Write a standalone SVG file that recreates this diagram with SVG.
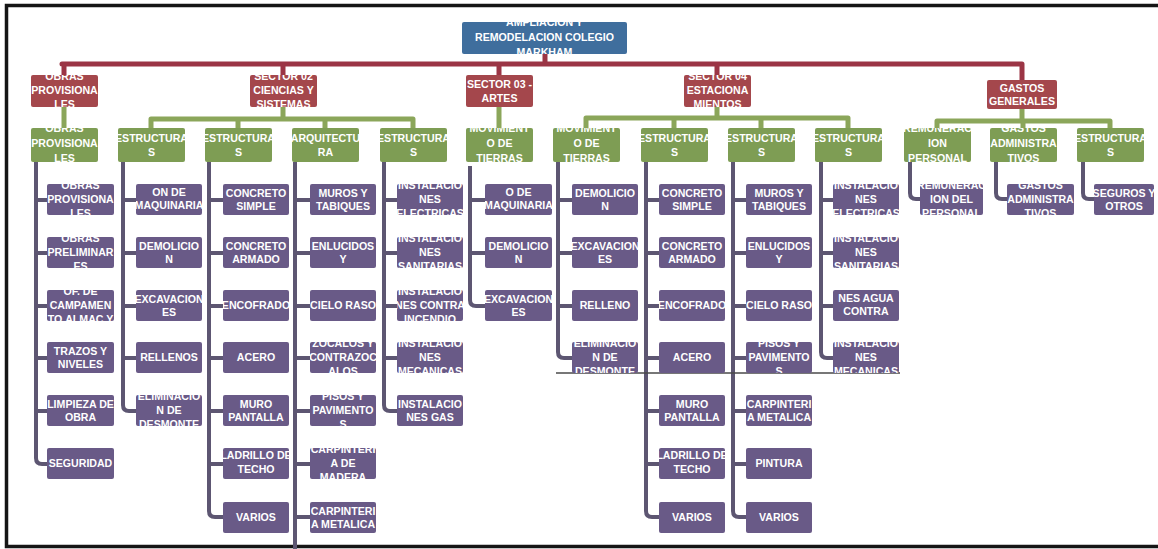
<svg xmlns="http://www.w3.org/2000/svg" width="1158" height="549" viewBox="0 0 1158 549">
<style>
  .bg{fill:#fff}
  .frame{fill:none;stroke:#151515;stroke-width:3.5}
  .root{fill:#3F6E9D}
  .sec{fill:#A4474C}
  .grp{fill:#7E9D54}
  .itm{fill:#695A87}
  .t{fill:#fff;font-family:"Liberation Sans",Arial,sans-serif;font-size:10.6px;font-weight:bold;text-anchor:middle}
  .lr{fill:none;stroke:#9B3545;stroke-width:5;stroke-linecap:round}
  .lg{fill:none;stroke:#8BA65A;stroke-width:5;stroke-linecap:round}
  .lp{fill:none;stroke:#5D5672;stroke-width:4}
  .lk{fill:none;stroke:#4A4A4A;stroke-width:1.5}
</style>
<rect class="bg" width="1158" height="549"/>
<path class="frame" d="M1158 5.5H6.5V546.5H1158"/>

<g id="connectors">
  <!-- level 1 -> level 2 -->
  <path class="lr" d="M545 54V64M62 64H1022M64 64V75M283 64V75M499 64V75M717 64V75M1022 64V80"/>
  <!-- level 2 -> level 3 -->
  <path class="lg" d="M64 107V128M499 107V128"/>
  <path class="lg" d="M283 107V119M151 119H413M151 119V128M238 119V128M325 119V128M413 119V128"/>
  <path class="lg" d="M717 107V118M586 118H848M586 118V128M674 118V128M761 118V128M848 118V128"/>
  <path class="lg" d="M1022 109V121M937 121H1110M937 121V128M1023 121V128M1110 121V128"/>
  <!-- level 3 -> items -->
  <path class="lp" d="M36 162V458Q36 464 42 464H47M36 200H47M36 253H47M36 306H47M36 358H47M36 411H47"/>
  <path class="lp" d="M123 162V405Q123 411 129 411H136M123 200H136M123 253H136M123 306H136M123 358H136"/>
  <path class="lp" d="M209 162V511Q209 517 215 517H223M209 200H223M209 253H223M209 306H223M209 358H223M209 411H223M209 464H223"/>
  <path class="lp" d="M295 162V549M295 200H310M295 253H310M295 306H310M295 358H310M295 411H310M295 464H310M295 517H310"/>
  <path class="lp" d="M384 162V405Q384 411 390 411H397M384 200H397M384 253H397M384 306H397M384 358H397"/>
  <path class="lp" d="M470 166V300Q470 306 476 306H485M470 200H485M470 253H485"/>
  <path class="lp" d="M558 162V352Q558 358 564 358H572M558 200H572M558 253H572M558 306H572"/>
  <path class="lp" d="M646 162V511Q646 517 652 517H659M646 200H659M646 253H659M646 306H659M646 358H659M646 411H659M646 464H659"/>
  <path class="lp" d="M733 162V511Q733 517 739 517H746M733 200H746M733 253H746M733 306H746M733 358H746M733 411H746M733 464H746"/>
  <path class="lp" d="M821 162V352Q821 358 827 358H833M821 200H833M821 253H833M821 306H833"/>
  <path class="lp" d="M910 162V193Q910 199 916 199H920M996 162V193Q996 199 1002 199H1007M1083 162V193Q1083 199 1089 199H1094"/>
  <path class="lk" d="M556 373H900"/>
</g>

<!-- level 1 -->
<g id="n-root"><svg x="462" y="22" width="165" height="32"><rect class="root" width="165" height="32" rx="2"/><text class="t"><tspan x="82.5" y="4">AMPLIACION Y</tspan><tspan x="82.5" y="19">REMODELACION COLEGIO</tspan><tspan x="82.5" y="34">MARKHAM</tspan></text></svg></g>

<!-- level 2 -->
<g id="n-s1"><svg x="31" y="75" width="67" height="32"><rect class="sec" width="67" height="32" rx="2"/><text class="t"><tspan x="33.5" y="5">OBRAS</tspan><tspan x="33.5" y="19">PROVISIONA</tspan><tspan x="33.5" y="33">LES</tspan></text></svg></g>
<g id="n-s2"><svg x="250" y="75" width="67" height="32"><rect class="sec" width="67" height="32" rx="2"/><text class="t"><tspan x="33.5" y="5">SECTOR 02</tspan><tspan x="33.5" y="19">CIENCIAS Y</tspan><tspan x="33.5" y="33">SISTEMAS</tspan></text></svg></g>
<g id="n-s3"><svg x="466" y="75" width="67" height="32"><rect class="sec" width="67" height="32" rx="2"/><text class="t"><tspan x="33.5" y="13">SECTOR 03 -</tspan><tspan x="33.5" y="27">ARTES</tspan></text></svg></g>
<g id="n-s4"><svg x="684" y="75" width="67" height="32"><rect class="sec" width="67" height="32" rx="2"/><text class="t"><tspan x="33.5" y="5">SECTOR 04</tspan><tspan x="33.5" y="19">ESTACIONA</tspan><tspan x="33.5" y="33">MIENTOS</tspan></text></svg></g>
<g id="n-s5"><svg x="987" y="80" width="70" height="29"><rect class="sec" width="70" height="29" rx="2"/><text class="t"><tspan x="35" y="12">GASTOS</tspan><tspan x="35" y="25">GENERALES</tspan></text></svg></g>

<!-- level 3 -->
<g id="n-g1"><svg x="31" y="128" width="67" height="34"><rect class="grp" width="67" height="34" rx="2"/><text class="t"><tspan x="33.5" y="4">OBRAS</tspan><tspan x="33.5" y="19">PROVISIONA</tspan><tspan x="33.5" y="34">LES</tspan></text></svg></g>
<g id="n-g2"><svg x="118" y="128" width="67" height="34"><rect class="grp" width="67" height="34" rx="2"/><text class="t"><tspan x="33.5" y="14">ESTRUCTURA</tspan><tspan x="33.5" y="28">S</tspan></text></svg></g>
<g id="n-g3"><svg x="205" y="128" width="67" height="34"><rect class="grp" width="67" height="34" rx="2"/><text class="t"><tspan x="33.5" y="14">ESTRUCTURA</tspan><tspan x="33.5" y="28">S</tspan></text></svg></g>
<g id="n-g4"><svg x="292" y="128" width="67" height="34"><rect class="grp" width="67" height="34" rx="2"/><text class="t"><tspan x="33.5" y="14">ARQUITECTU</tspan><tspan x="33.5" y="28">RA</tspan></text></svg></g>
<g id="n-g5"><svg x="380" y="128" width="67" height="34"><rect class="grp" width="67" height="34" rx="2"/><text class="t"><tspan x="33.5" y="14">ESTRUCTURA</tspan><tspan x="33.5" y="28">S</tspan></text></svg></g>
<g id="n-g6"><svg x="466" y="128" width="67" height="34"><rect class="grp" width="67" height="34" rx="2"/><text class="t"><tspan x="33.5" y="4">MOVIMIENT</tspan><tspan x="33.5" y="19">O DE</tspan><tspan x="33.5" y="34">TIERRAS</tspan></text></svg></g>
<g id="n-g7"><svg x="553" y="128" width="67" height="34"><rect class="grp" width="67" height="34" rx="2"/><text class="t"><tspan x="33.5" y="4">MOVIMIENT</tspan><tspan x="33.5" y="19">O DE</tspan><tspan x="33.5" y="34">TIERRAS</tspan></text></svg></g>
<g id="n-g8"><svg x="641" y="128" width="67" height="34"><rect class="grp" width="67" height="34" rx="2"/><text class="t"><tspan x="33.5" y="14">ESTRUCTURA</tspan><tspan x="33.5" y="28">S</tspan></text></svg></g>
<g id="n-g9"><svg x="728" y="128" width="67" height="34"><rect class="grp" width="67" height="34" rx="2"/><text class="t"><tspan x="33.5" y="14">ESTRUCTURA</tspan><tspan x="33.5" y="28">S</tspan></text></svg></g>
<g id="n-g10"><svg x="815" y="128" width="67" height="34"><rect class="grp" width="67" height="34" rx="2"/><text class="t"><tspan x="33.5" y="14">ESTRUCTURA</tspan><tspan x="33.5" y="28">S</tspan></text></svg></g>
<g id="n-g11"><svg x="904" y="128" width="67" height="34"><rect class="grp" width="67" height="34" rx="2"/><text class="t"><tspan x="33.5" y="4">REMUNERAC</tspan><tspan x="33.5" y="19">ION</tspan><tspan x="33.5" y="34">PERSONAL</tspan></text></svg></g>
<g id="n-g12"><svg x="990" y="128" width="67" height="34"><rect class="grp" width="67" height="34" rx="2"/><text class="t"><tspan x="33.5" y="4">GASTOS</tspan><tspan x="33.5" y="19">ADMINISTRA</tspan><tspan x="33.5" y="34">TIVOS</tspan></text></svg></g>
<g id="n-g13"><svg x="1077" y="128" width="67" height="34"><rect class="grp" width="67" height="34" rx="2"/><text class="t"><tspan x="33.5" y="14">ESTRUCTURA</tspan><tspan x="33.5" y="28">S</tspan></text></svg></g>

<!-- items: obras provisionales -->
<g id="n-a1"><svg x="47" y="184" width="67" height="31"><rect class="itm" width="67" height="31" rx="2"/><text class="t"><tspan x="33.5" y="5">OBRAS</tspan><tspan x="33.5" y="19">PROVISIONA</tspan><tspan x="33.5" y="33">LES</tspan></text></svg></g>
<g id="n-a2"><svg x="47" y="237" width="67" height="31"><rect class="itm" width="67" height="31" rx="2"/><text class="t"><tspan x="33.5" y="5">OBRAS</tspan><tspan x="33.5" y="19">PRELIMINAR</tspan><tspan x="33.5" y="33">ES</tspan></text></svg></g>
<g id="n-a3"><svg x="47" y="290" width="67" height="31"><rect class="itm" width="67" height="31" rx="2"/><text class="t"><tspan x="33.5" y="5">OF. DE</tspan><tspan x="33.5" y="19">CAMPAMEN</tspan><tspan x="33.5" y="33">TO,ALMAC Y</tspan></text></svg></g>
<g id="n-a4"><svg x="47" y="342" width="67" height="31"><rect class="itm" width="67" height="31" rx="2"/><text class="t"><tspan x="33.5" y="13">TRAZOS Y</tspan><tspan x="33.5" y="26">NIVELES</tspan></text></svg></g>
<g id="n-a5"><svg x="47" y="395" width="67" height="31"><rect class="itm" width="67" height="31" rx="2"/><text class="t"><tspan x="33.5" y="13">LIMPIEZA DE</tspan><tspan x="33.5" y="26">OBRA</tspan></text></svg></g>
<g id="n-a6"><svg x="47" y="448" width="67" height="31"><rect class="itm" width="67" height="31" rx="2"/><text class="t"><tspan x="33.5" y="19">SEGURIDAD</tspan></text></svg></g>

<!-- items: sector 02 -->
<g id="n-b1"><svg x="136" y="184" width="66" height="31"><rect class="itm" width="66" height="31" rx="2"/><text class="t"><tspan x="33" y="-1">MOVILIZACI</tspan><tspan x="33" y="12">ON DE</tspan><tspan x="33" y="25">MAQUINARIA</tspan></text></svg></g>
<g id="n-b2"><svg x="136" y="237" width="66" height="31"><rect class="itm" width="66" height="31" rx="2"/><text class="t"><tspan x="33" y="13">DEMOLICIO</tspan><tspan x="33" y="26">N</tspan></text></svg></g>
<g id="n-b3"><svg x="136" y="290" width="66" height="31"><rect class="itm" width="66" height="31" rx="2"/><text class="t"><tspan x="33" y="13">EXCAVACION</tspan><tspan x="33" y="26">ES</tspan></text></svg></g>
<g id="n-b4"><svg x="136" y="342" width="66" height="31"><rect class="itm" width="66" height="31" rx="2"/><text class="t"><tspan x="33" y="19">RELLENOS</tspan></text></svg></g>
<g id="n-b5"><svg x="136" y="395" width="66" height="31"><rect class="itm" width="66" height="31" rx="2"/><text class="t"><tspan x="33" y="5">ELIMINACIO</tspan><tspan x="33" y="19">N DE</tspan><tspan x="33" y="33">DESMONTE</tspan></text></svg></g>

<g id="n-c1"><svg x="223" y="184" width="66" height="31"><rect class="itm" width="66" height="31" rx="2"/><text class="t"><tspan x="33" y="13">CONCRETO</tspan><tspan x="33" y="26">SIMPLE</tspan></text></svg></g>
<g id="n-c2"><svg x="223" y="237" width="66" height="31"><rect class="itm" width="66" height="31" rx="2"/><text class="t"><tspan x="33" y="13">CONCRETO</tspan><tspan x="33" y="26">ARMADO</tspan></text></svg></g>
<g id="n-c3"><svg x="223" y="290" width="66" height="31"><rect class="itm" width="66" height="31" rx="2"/><text class="t"><tspan x="33" y="19">ENCOFRADO</tspan></text></svg></g>
<g id="n-c4"><svg x="223" y="342" width="66" height="31"><rect class="itm" width="66" height="31" rx="2"/><text class="t"><tspan x="33" y="19">ACERO</tspan></text></svg></g>
<g id="n-c5"><svg x="223" y="395" width="66" height="31"><rect class="itm" width="66" height="31" rx="2"/><text class="t"><tspan x="33" y="13">MURO</tspan><tspan x="33" y="26">PANTALLA</tspan></text></svg></g>
<g id="n-c6"><svg x="223" y="448" width="66" height="31"><rect class="itm" width="66" height="31" rx="2"/><text class="t"><tspan x="33" y="11">LADRILLO DE</tspan><tspan x="33" y="25">TECHO</tspan></text></svg></g>
<g id="n-c7"><svg x="223" y="502" width="66" height="31"><rect class="itm" width="66" height="31" rx="2"/><text class="t"><tspan x="33" y="19">VARIOS</tspan></text></svg></g>

<g id="n-d1"><svg x="310" y="184" width="66" height="31"><rect class="itm" width="66" height="31" rx="2"/><text class="t"><tspan x="33" y="13">MUROS Y</tspan><tspan x="33" y="26">TABIQUES</tspan></text></svg></g>
<g id="n-d2"><svg x="310" y="237" width="66" height="31"><rect class="itm" width="66" height="31" rx="2"/><text class="t"><tspan x="33" y="13">ENLUCIDOS</tspan><tspan x="33" y="26">Y</tspan></text></svg></g>
<g id="n-d3"><svg x="310" y="290" width="66" height="31"><rect class="itm" width="66" height="31" rx="2"/><text class="t"><tspan x="33" y="19">CIELO RASO</tspan></text></svg></g>
<g id="n-d4"><svg x="310" y="342" width="66" height="31"><rect class="itm" width="66" height="31" rx="2"/><text class="t"><tspan x="33" y="5">ZOCALOS Y</tspan><tspan x="33" y="19">CONTRAZOC</tspan><tspan x="33" y="33">ALOS</tspan></text></svg></g>
<g id="n-d5"><svg x="310" y="395" width="66" height="31"><rect class="itm" width="66" height="31" rx="2"/><text class="t"><tspan x="33" y="5">PISOS Y</tspan><tspan x="33" y="19">PAVIMENTO</tspan><tspan x="33" y="33">S</tspan></text></svg></g>
<g id="n-d6"><svg x="310" y="448" width="66" height="31"><rect class="itm" width="66" height="31" rx="2"/><text class="t"><tspan x="33" y="5">CARPINTERI</tspan><tspan x="33" y="19">A DE</tspan><tspan x="33" y="33">MADERA</tspan></text></svg></g>
<g id="n-d7"><svg x="310" y="502" width="66" height="31"><rect class="itm" width="66" height="31" rx="2"/><text class="t"><tspan x="33" y="13">CARPINTERI</tspan><tspan x="33" y="26">A METALICA</tspan></text></svg></g>

<g id="n-e1"><svg x="397" y="184" width="66" height="31"><rect class="itm" width="66" height="31" rx="2"/><text class="t"><tspan x="33" y="5">INSTALACIO</tspan><tspan x="33" y="19">NES</tspan><tspan x="33" y="33">ELECTRICAS</tspan></text></svg></g>
<g id="n-e2"><svg x="397" y="237" width="66" height="31"><rect class="itm" width="66" height="31" rx="2"/><text class="t"><tspan x="33" y="5">INSTALACIO</tspan><tspan x="33" y="19">NES</tspan><tspan x="33" y="33">SANITARIAS</tspan></text></svg></g>
<g id="n-e3"><svg x="397" y="290" width="66" height="31"><rect class="itm" width="66" height="31" rx="2"/><text class="t"><tspan x="33" y="5">INSTALACIO</tspan><tspan x="33" y="19">NES CONTRA</tspan><tspan x="33" y="33">INCENDIO</tspan></text></svg></g>
<g id="n-e4"><svg x="397" y="342" width="66" height="31"><rect class="itm" width="66" height="31" rx="2"/><text class="t"><tspan x="33" y="5">INSTALACIO</tspan><tspan x="33" y="19">NES</tspan><tspan x="33" y="33">MECANICAS</tspan></text></svg></g>
<g id="n-e5"><svg x="397" y="395" width="66" height="31"><rect class="itm" width="66" height="31" rx="2"/><text class="t"><tspan x="33" y="13">INSTALACIO</tspan><tspan x="33" y="26">NES GAS</tspan></text></svg></g>

<!-- items: sector 03 -->
<g id="n-f1"><svg x="485" y="184" width="67" height="31"><rect class="itm" width="67" height="31" rx="2"/><text class="t"><tspan x="33.5" y="-1">MOVILIZACI</tspan><tspan x="33.5" y="12">O DE</tspan><tspan x="33.5" y="25">MAQUINARIA</tspan></text></svg></g>
<g id="n-f2"><svg x="485" y="237" width="67" height="31"><rect class="itm" width="67" height="31" rx="2"/><text class="t"><tspan x="33.5" y="13">DEMOLICIO</tspan><tspan x="33.5" y="26">N</tspan></text></svg></g>
<g id="n-f3"><svg x="485" y="290" width="67" height="31"><rect class="itm" width="67" height="31" rx="2"/><text class="t"><tspan x="33.5" y="13">EXCAVACION</tspan><tspan x="33.5" y="26">ES</tspan></text></svg></g>

<!-- items: sector 04 -->
<g id="n-g7a"><svg x="572" y="184" width="66" height="31"><rect class="itm" width="66" height="31" rx="2"/><text class="t"><tspan x="33" y="13">DEMOLICIO</tspan><tspan x="33" y="26">N</tspan></text></svg></g>
<g id="n-g7b"><svg x="572" y="237" width="66" height="31"><rect class="itm" width="66" height="31" rx="2"/><text class="t"><tspan x="33" y="13">EXCAVACION</tspan><tspan x="33" y="26">ES</tspan></text></svg></g>
<g id="n-g7c"><svg x="572" y="290" width="66" height="31"><rect class="itm" width="66" height="31" rx="2"/><text class="t"><tspan x="33" y="19">RELLENO</tspan></text></svg></g>
<g id="n-g7d"><svg x="572" y="342" width="66" height="31"><rect class="itm" width="66" height="31" rx="2"/><text class="t"><tspan x="33" y="5">ELIMINACIO</tspan><tspan x="33" y="19">N DE</tspan><tspan x="33" y="33">DESMONTE</tspan></text></svg></g>

<g id="n-h1"><svg x="659" y="184" width="66" height="31"><rect class="itm" width="66" height="31" rx="2"/><text class="t"><tspan x="33" y="13">CONCRETO</tspan><tspan x="33" y="26">SIMPLE</tspan></text></svg></g>
<g id="n-h2"><svg x="659" y="237" width="66" height="31"><rect class="itm" width="66" height="31" rx="2"/><text class="t"><tspan x="33" y="13">CONCRETO</tspan><tspan x="33" y="26">ARMADO</tspan></text></svg></g>
<g id="n-h3"><svg x="659" y="290" width="66" height="31"><rect class="itm" width="66" height="31" rx="2"/><text class="t"><tspan x="33" y="19">ENCOFRADO</tspan></text></svg></g>
<g id="n-h4"><svg x="659" y="342" width="66" height="31"><rect class="itm" width="66" height="31" rx="2"/><text class="t"><tspan x="33" y="19">ACERO</tspan></text></svg></g>
<g id="n-h5"><svg x="659" y="395" width="66" height="31"><rect class="itm" width="66" height="31" rx="2"/><text class="t"><tspan x="33" y="13">MURO</tspan><tspan x="33" y="26">PANTALLA</tspan></text></svg></g>
<g id="n-h6"><svg x="659" y="448" width="66" height="31"><rect class="itm" width="66" height="31" rx="2"/><text class="t"><tspan x="33" y="11">LADRILLO DE</tspan><tspan x="33" y="25">TECHO</tspan></text></svg></g>
<g id="n-h7"><svg x="659" y="502" width="66" height="31"><rect class="itm" width="66" height="31" rx="2"/><text class="t"><tspan x="33" y="19">VARIOS</tspan></text></svg></g>

<g id="n-i1"><svg x="746" y="184" width="66" height="31"><rect class="itm" width="66" height="31" rx="2"/><text class="t"><tspan x="33" y="13">MUROS Y</tspan><tspan x="33" y="26">TABIQUES</tspan></text></svg></g>
<g id="n-i2"><svg x="746" y="237" width="66" height="31"><rect class="itm" width="66" height="31" rx="2"/><text class="t"><tspan x="33" y="13">ENLUCIDOS</tspan><tspan x="33" y="26">Y</tspan></text></svg></g>
<g id="n-i3"><svg x="746" y="290" width="66" height="31"><rect class="itm" width="66" height="31" rx="2"/><text class="t"><tspan x="33" y="19">CIELO RASO</tspan></text></svg></g>
<g id="n-i4"><svg x="746" y="342" width="66" height="31"><rect class="itm" width="66" height="31" rx="2"/><text class="t"><tspan x="33" y="5">PISOS Y</tspan><tspan x="33" y="19">PAVIMENTO</tspan><tspan x="33" y="33">S</tspan></text></svg></g>
<g id="n-i5"><svg x="746" y="395" width="66" height="31"><rect class="itm" width="66" height="31" rx="2"/><text class="t"><tspan x="33" y="13">CARPINTERI</tspan><tspan x="33" y="26">A METALICA</tspan></text></svg></g>
<g id="n-i6"><svg x="746" y="448" width="66" height="31"><rect class="itm" width="66" height="31" rx="2"/><text class="t"><tspan x="33" y="19">PINTURA</tspan></text></svg></g>
<g id="n-i7"><svg x="746" y="502" width="66" height="31"><rect class="itm" width="66" height="31" rx="2"/><text class="t"><tspan x="33" y="19">VARIOS</tspan></text></svg></g>

<g id="n-j1"><svg x="833" y="184" width="66" height="31"><rect class="itm" width="66" height="31" rx="2"/><text class="t"><tspan x="33" y="5">INSTALACIO</tspan><tspan x="33" y="19">NES</tspan><tspan x="33" y="33">ELECTRICAS</tspan></text></svg></g>
<g id="n-j2"><svg x="833" y="237" width="66" height="31"><rect class="itm" width="66" height="31" rx="2"/><text class="t"><tspan x="33" y="5">INSTALACIO</tspan><tspan x="33" y="19">NES</tspan><tspan x="33" y="33">SANITARIAS</tspan></text></svg></g>
<g id="n-j3"><svg x="833" y="290" width="66" height="31"><rect class="itm" width="66" height="31" rx="2"/><text class="t"><tspan x="33" y="-1">INSTALACIO</tspan><tspan x="33" y="12">NES AGUA</tspan><tspan x="33" y="25">CONTRA</tspan></text></svg></g>
<g id="n-j4"><svg x="833" y="342" width="66" height="31"><rect class="itm" width="66" height="31" rx="2"/><text class="t"><tspan x="33" y="5">INSTALACIO</tspan><tspan x="33" y="19">NES</tspan><tspan x="33" y="33">MECANICAS</tspan></text></svg></g>

<!-- items: gastos generales -->
<g id="n-k1"><svg x="920" y="184" width="63" height="31"><rect class="itm" width="63" height="31" rx="2"/><text class="t"><tspan x="31.5" y="5">REMUNERAC</tspan><tspan x="31.5" y="19">ION DEL</tspan><tspan x="31.5" y="33">PERSONAL</tspan></text></svg></g>
<g id="n-k2"><svg x="1007" y="184" width="67" height="31"><rect class="itm" width="67" height="31" rx="2"/><text class="t"><tspan x="33.5" y="5">GASTOS</tspan><tspan x="33.5" y="19">ADMINISTRA</tspan><tspan x="33.5" y="33">TIVOS</tspan></text></svg></g>
<g id="n-k3"><svg x="1094" y="184" width="60" height="31"><rect class="itm" width="60" height="31" rx="2"/><text class="t"><tspan x="30" y="13">SEGUROS Y</tspan><tspan x="30" y="26">OTROS</tspan></text></svg></g>
</svg>
